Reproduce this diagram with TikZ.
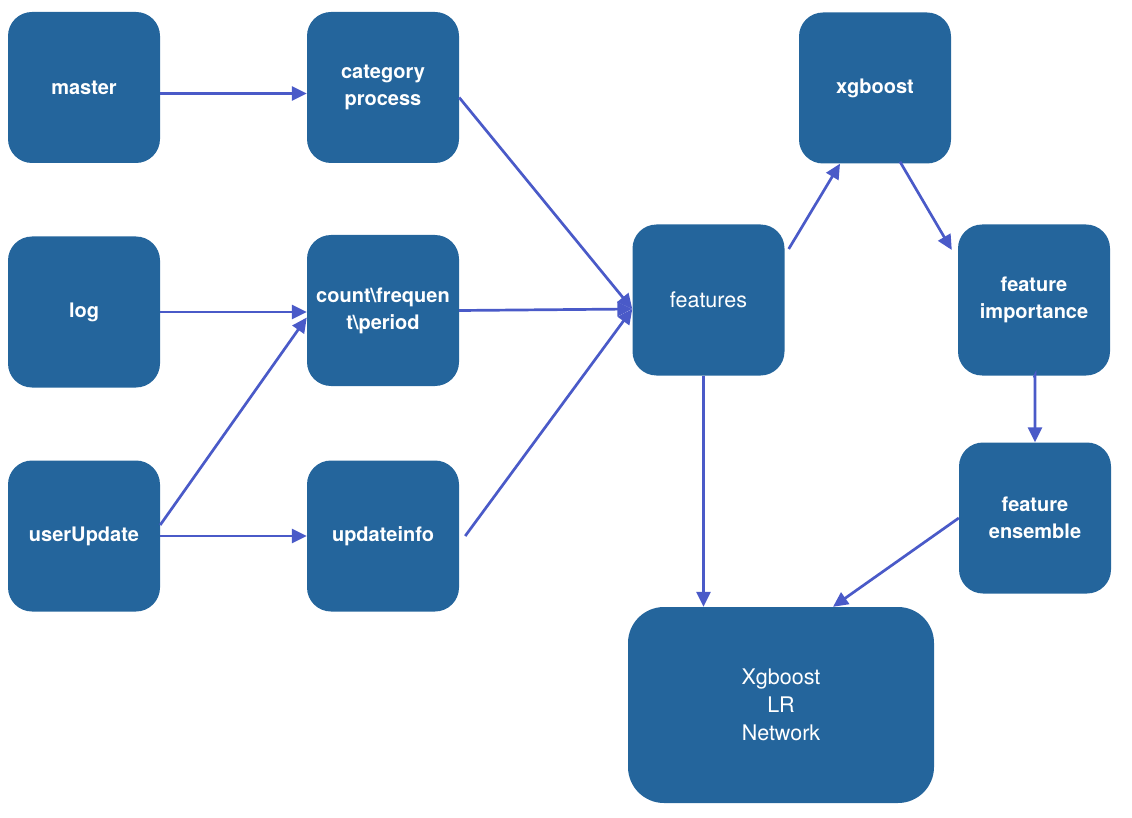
\documentclass[tikz,border=0pt]{standalone}
\usepackage{fontspec}
\setmainfont{TeX Gyre Heros}
\usetikzlibrary{arrows.meta}
\definecolor{boxblue}{RGB}{36,101,156}
\definecolor{arrblue}{RGB}{74,90,200}

\begin{document}
\begin{tikzpicture} [x=1pt, y=-1pt,
  box/.style={fill=boxblue, rounded corners=24pt, minimum width=152pt, minimum height=151pt,
    inner sep=0pt, text=white, align=center, font=\fontsize{20}{27}\selectfont\bfseries},
  plain/.style={font=\fontsize{21.5}{28}\selectfont},
  arr/.style={arrblue, line width=2.7pt, -{Triangle[length=15pt,width=14pt]}}]
\useasboundingbox (0,0) rectangle (1132,818);
% input boxes
\node[box] (master) at (84,87.5) {master};
\node[box] (log) at (84,312) {log};
\node[box] (user) at (84,536) {userUpdate};
\node[box] (cat) at (383,87.5) {category\\process};
\node[box] (count) at (383,310.5) {count\textbackslash frequen\\t\textbackslash period};
\node[box] (upd) at (383,536) {updateinfo};
% model boxes
\node[box,plain] (feat) at (708.5,300) {features};
\node[box] (xgb) at (875,88) {xgboost};
\node[box] (imp) at (1034,300) {feature\\importance};
\node[box] (ens) at (1035,518) {feature\\ensemble};
\node[box,plain, minimum width=306pt, minimum height=196pt, rounded corners=36pt] (big) at (781,705) {Xgboost\\LR\\Network};
% arrows
\draw[arr] ([yshift=-6pt]master.east) -- ([yshift=-6pt]cat.west);
\draw[arr] (log.east) -- (log.east -| count.west);
\draw[arr] ([yshift=11pt]user.east) -- ([yshift=-7pt]count.west);
\draw[arr] (user.east) -- (upd.west);
\draw[arr] ([yshift=-10pt]cat.east) -- ([yshift=-9pt]feat.west);
\draw[arr] (count.east) -- ([yshift=-9pt]feat.west);
\draw[arr] ([xshift=6pt]upd.east) -- ([yshift=-9pt]feat.west);
\draw[arr] ([xshift=4pt,yshift=51pt]feat.east) -- ([xshift=-35pt]xgb.south);
\draw[arr] ([xshift=25pt,yshift=2pt]xgb.south) -- ([xshift=-6pt,yshift=50pt]imp.west);
\draw[arr] ([xshift=-5pt]feat.south) -- ([xshift=-5pt]feat.south |- big.north);
\draw[arr] ([yshift=-2pt]imp.south) -- (imp.south -| ens.north) -- (ens.north);
\draw[arr] (ens.west) -- ([xshift=52pt]big.north);
\end{tikzpicture}
\end{document}
